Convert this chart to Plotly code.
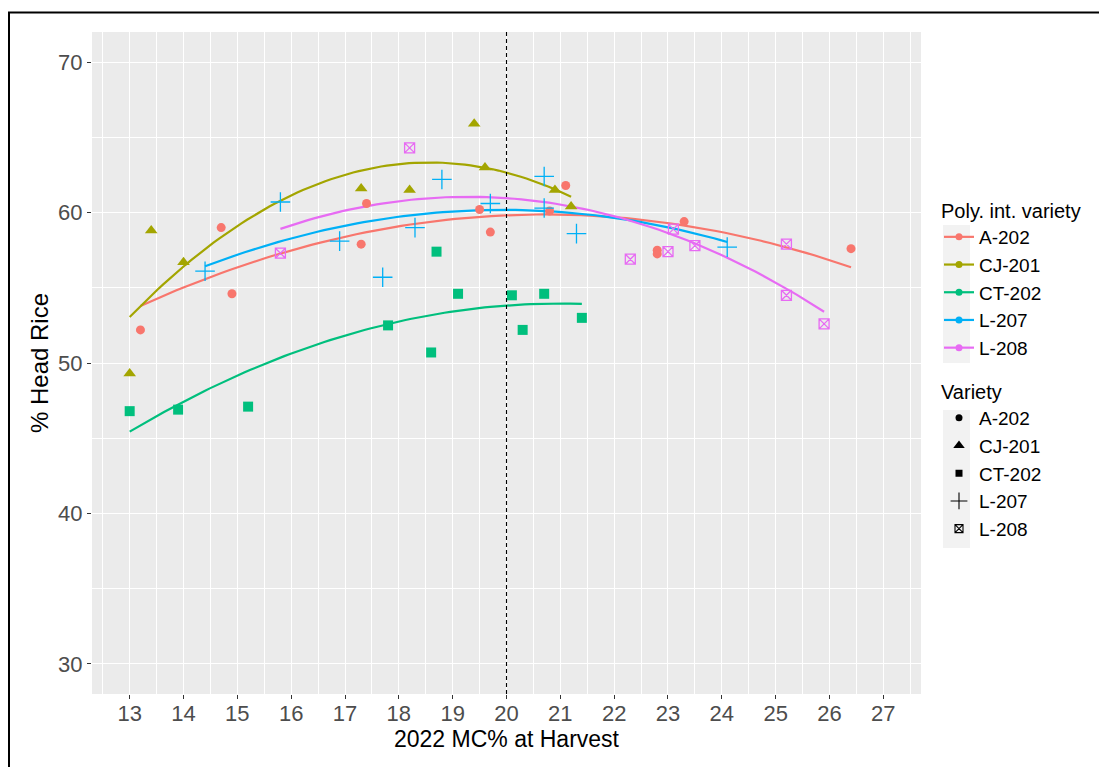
import numpy as np
import plotly.graph_objects as go

varieties = ["A-202", "CJ-201", "CT-202", "L-207", "L-208"]
colors = ["#F8766D", "#A3A500", "#00BF7D", "#00B0F6", "#E76BF3"]
symbols = ["circle", "triangle-up", "square", "cross-thin-open", "square-x-open"]
sizes = [9, 11, 10, 14, 10]
legend_sizes = [7, 10, 7, 12, 8]

a202_mc = [13.2, 14.7, 14.9, 17.4, 17.3, 19.5, 19.7, 20.8, 21.1, 22.8, 22.8, 23.3, 26.4]
a202_hr = [52.2, 59.0, 54.6, 60.6, 57.9, 60.2, 58.7, 60.1, 61.8, 57.5, 57.25, 59.4, 57.6]
cj201_mc = [13.0, 13.4, 14.0, 17.3, 18.2, 19.4, 19.6, 20.9, 21.2]
cj201_hr = [49.3, 58.8, 56.7, 61.6, 61.5, 65.9, 63.0, 61.5, 60.4]
ct202_mc = [13.0, 13.9, 15.2, 17.8, 18.7, 19.1, 18.6, 20.1, 20.3, 20.7, 21.4]
ct202_hr = [46.8, 46.9, 47.1, 52.5, 57.4, 54.6, 50.7, 54.5, 52.2, 54.6, 53.0]
l207_mc = [14.4, 15.8, 16.9, 17.7, 18.3, 18.8, 19.7, 20.7, 20.7, 21.3, 24.1]
l207_hr = [56.1, 60.7, 58.1, 55.7, 59.0, 62.2, 60.6, 62.4, 60.3, 58.6, 57.7]
l208_mc = [15.8, 18.2, 22.3, 23.0, 23.1, 23.5, 25.2, 25.2, 25.9]
l208_hr = [57.3, 64.3, 56.9, 57.4, 58.9, 57.8, 57.9, 54.5, 52.6]

mc = [a202_mc, cj201_mc, ct202_mc, l207_mc, l208_mc]
hr = [a202_hr, cj201_hr, ct202_hr, l207_hr, l208_hr]

x_ticks = list(range(13, 28))
y_ticks = [30, 40, 50, 60, 70]
cutoff_mc = 20

FONT = "Arial, Liberation Sans, sans-serif"
fig = go.Figure()

# quadratic (polynomial) fit per variety, as in the original
for v, c, x, y in zip(varieties, colors, mc, hr):
    coef = np.polyfit(x, y, 2)
    xs = np.linspace(min(x), max(x), 80)
    fig.add_trace(go.Scatter(x=xs, y=np.polyval(coef, xs), mode="lines",
                             line=dict(color=c, width=2.2), showlegend=False,
                             hoverinfo="skip"))

for v, c, s, sz, x, y in zip(varieties, colors, symbols, sizes, mc, hr):
    open_sym = s.endswith("open")
    fig.add_trace(go.Scatter(x=x, y=y, mode="markers", name=v, showlegend=False,
                             marker=dict(symbol=s, size=sz, color=c,
                                         line=dict(color=c, width=1.3 if open_sym else 0))))

# legend 1: fitted lines
for v, c in zip(varieties, colors):
    fig.add_trace(go.Scatter(x=[None], y=[None], mode="lines+markers", name=v,
                             line=dict(color=c, width=2.2),
                             marker=dict(symbol="circle", size=7, color=c),
                             legend="legend"))
# legend 2: shapes
for v, s, sz in zip(varieties, symbols, legend_sizes):
    open_sym = s.endswith("open")
    fig.add_trace(go.Scatter(x=[None], y=[None], mode="markers", name=v,
                             marker=dict(symbol=s, size=sz, color="black",
                                         line=dict(color="black", width=1.1 if open_sym else 0)),
                             legend="legend2"))

fig.add_vline(x=cutoff_mc, line=dict(color="black", width=1.1, dash="4px,3px"))

# the page has an 8px body margin: figure starts at page (8, 8)
OFF = 8
W, H = 1107 - OFF, 767 - OFF
L, R, T, B = 92 - OFF, 186, 32 - OFF, 73
PW, PH = W - L - R, H - T - B
def px_x(p):  # page pixel -> paper
    return (p - OFF - L) / PW
def px_y(p):
    return (H - B - (p - OFF)) / PH

shapes = [
    dict(type="rect", xref="paper", yref="paper", x0=px_x(9), x1=px_x(1130),
         y0=px_y(800), y1=px_y(12.5), line=dict(color="black", width=2), layer="below"),
    dict(type="rect", xref="paper", yref="paper", x0=px_x(943), x1=px_x(970),
         y0=px_y(363), y1=px_y(225), fillcolor="#F2F2F2", line=dict(width=0), layer="below"),
    dict(type="rect", xref="paper", yref="paper", x0=px_x(943), x1=px_x(970),
         y0=px_y(548), y1=px_y(410), fillcolor="#F2F2F2", line=dict(width=0), layer="below"),
]
for s in shapes:
    fig.add_shape(**s)

axis_common = dict(showline=False, ticks="outside", ticklen=4, tickwidth=1.1,
                   tickcolor="#333333", gridcolor="white", gridwidth=1.2,
                   zeroline=False, tickfont=dict(family=FONT, size=22, color="#4D4D4D"))
fig.update_xaxes(range=[12.3, 27.7], tickvals=x_ticks, ticktext=[str(t) for t in x_ticks],
                 ticklabelstandoff=-4,
                 minor=dict(dtick=0.5, tick0=12.5, showgrid=True, gridcolor="white", gridwidth=0.6, ticks=""),
                 title=dict(text="2022 MC% at Harvest", font=dict(family=FONT, size=23, color="black"),
                            standoff=2),
                 **axis_common)
fig.update_yaxes(range=[28, 72], tickvals=y_ticks,
                 minor=dict(dtick=5, tick0=25, showgrid=True, gridcolor="white", gridwidth=0.6, ticks=""),
                 title=dict(text="% Head Rice", font=dict(family=FONT, size=24, color="black"),
                            standoff=2),
                 **axis_common)

fig.update_layout(
    width=W, height=H,
    margin=dict(l=L, r=R, t=T, b=B, autoexpand=False),
    plot_bgcolor="#EBEBEB", paper_bgcolor="white",
    font=dict(family=FONT, color="black"),
    legend=dict(title=dict(text="Poly. int. variety", font=dict(size=20, family=FONT)),
                font=dict(size=19, family=FONT), x=px_x(939), y=px_y(192),
                xanchor="left", yanchor="top", bgcolor="rgba(0,0,0,0)",
                itemwidth=30, tracegroupgap=0),
    legend2=dict(title=dict(text="Variety", font=dict(size=20, family=FONT)),
                 font=dict(size=19, family=FONT), x=px_x(939), y=px_y(373),
                 xanchor="left", yanchor="top", bgcolor="rgba(0,0,0,0)",
                 itemwidth=30, tracegroupgap=0),
    hovermode=False,
)

fig.write_html("out.html")
